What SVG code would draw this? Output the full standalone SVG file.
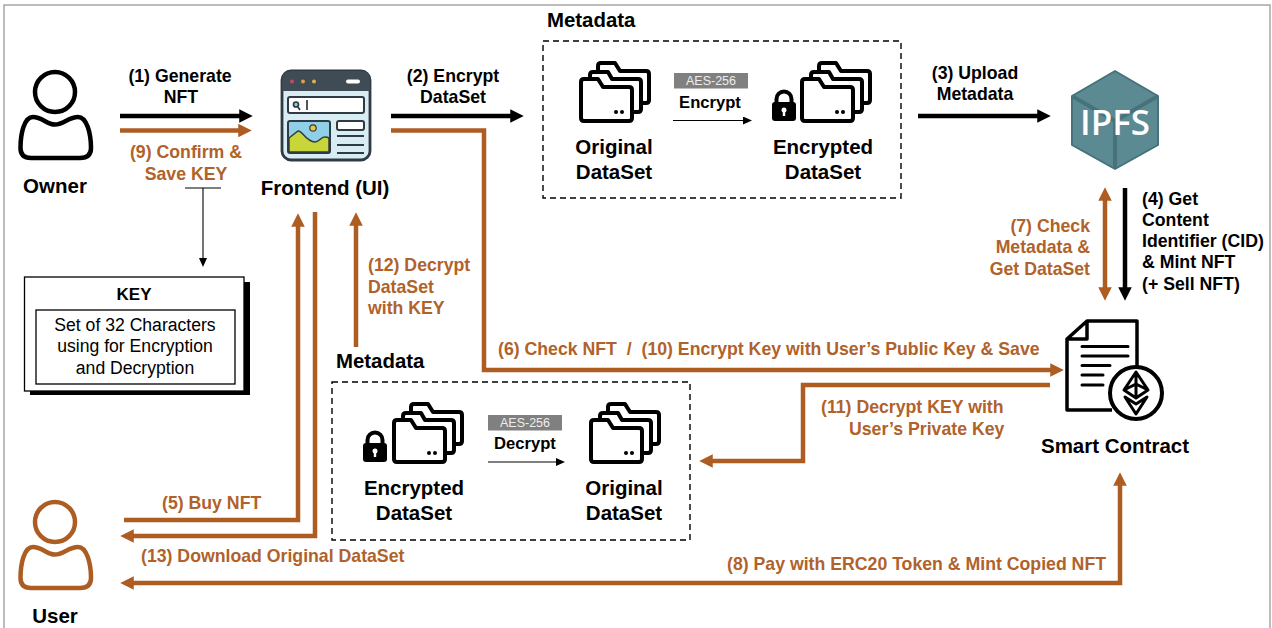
<svg xmlns="http://www.w3.org/2000/svg" width="1272" height="628" viewBox="0 0 1272 628">
<style>
text{font-family:"Liberation Sans",Arial,sans-serif;font-weight:700;fill:#000}
.t{font-size:17.7px}
.o{fill:#b0622a}
.n{font-size:20.5px;text-anchor:middle}
.m{text-anchor:middle}
.meta{font-size:20.4px}
.b{fill:none;stroke:#000;stroke-width:4.5;marker-end:url(#ab)}
.r{fill:none;stroke:#ad5c22;stroke-width:4.5;marker-end:url(#ao)}
.thin{fill:none;stroke:#000;stroke-width:1.1}
.f{fill:none;stroke:#000;stroke-width:4;stroke-linejoin:round;stroke-linecap:round}
.dash{fill:none;stroke:#000;stroke-width:1.4;stroke-dasharray:6 4}
.ln{stroke:#000;stroke-linecap:round}
.aes{fill:#808080}
.aest{font-size:12.5px;font-weight:400;fill:#eee;text-anchor:middle}
.op{font-size:16.6px;text-anchor:middle}
.kt{font-size:17.6px;font-weight:400;text-anchor:middle}
</style>
<defs>
<marker id="ab" viewBox="0 0 3 3" markerWidth="3" markerHeight="3" refX="1.5" refY="1.5" orient="auto-start-reverse"><path d="M0 0L3 1.5L0 3Z" fill="#000"/></marker>
<marker id="ao" viewBox="0 0 3 3" markerWidth="3" markerHeight="3" refX="1.5" refY="1.5" orient="auto-start-reverse"><path d="M0 0L3 1.5L0 3Z" fill="#ad5c22"/></marker>
<marker id="at" viewBox="0 0 9 8" markerWidth="9" markerHeight="8" markerUnits="userSpaceOnUse" refX="2" refY="4" orient="auto"><path d="M0 0L9 4L0 8Z" fill="#000"/></marker>
<g id="person">
<circle cx="55" cy="92" r="20" fill="none" stroke-width="4.5"/>
<path d="M55 124.500C47 124.500 42 117 33 117C24 117 20.500 134 20.500 148C20.500 155 24 158 31 158H80C87 158 91 155 91 148C91 134 87 117 78 117C69 117 63 124.500 55 124.500Z" fill="none" stroke-width="4.500"/>
</g>
<g id="folders">
<path class="f" d="M19 9V4Q19 1 22 1H36L41 9H67Q70 9 70 12V38Q70 41 67 41H62"/>
<path class="f" d="M11 16V13Q11 10 14 10H29L33 17H59Q62 17 62 20V47Q62 50 59 50H53"/>
<path class="f" d="M2 56V20Q2 17 5 17H19L24 25H50Q53 25 53 28V56Q53 59 50 59H5Q2 59 2 56Z"/>
<circle cx="37" cy="50" r="2"/><circle cx="43" cy="50" r="2"/>
</g>
<g id="lock">
<path d="M4.500 14V10A7.500 7.500 0 0 1 19.500 10V14" fill="none" stroke="#000" stroke-width="4"/>
<rect x="0" y="13" width="24" height="19" rx="3"/>
<circle cx="12" cy="21" r="2.500" fill="#fff"/><rect x="10.800" y="21" width="2.400" height="6" fill="#fff"/>
</g>
</defs>
<rect width="1272" height="628" fill="#fff"/>
<path id="frame" d="M4 628V5H1270V628" fill="none" stroke="#a6a6a6" stroke-width="1.500"/>

<g id="connectors">
<path class="b" d="M120 116H246"/>
<path class="r" d="M120 130.500H245"/>
<path class="b" d="M391 116H517"/>
<path class="r" d="M391 130.500H484V370H1057"/>
<path class="b" d="M918 116H1044"/>
<path class="r" d="M1105 194V294" marker-start="url(#ao)"/>
<path class="b" d="M1125 188V294"/>
<path class="r" d="M124 520H298V220"/>
<path class="r" d="M315 212V536H127"/>
<path class="r" d="M356 347V219"/>
<path class="r" d="M1050 385H803V461H706"/>
<path class="r" d="M127 583H1120V479" marker-start="url(#ao)"/>
<path class="thin" d="M185 188H221" stroke="#777"/>
<path class="thin" d="M203 188V260" marker-end="url(#at)"/>
<path class="thin" d="M673 120.500H745" marker-end="url(#at)"/>
<path class="thin" d="M488 462H558" marker-end="url(#at)"/>
</g>

<g id="owner">
<use href="#person" stroke="#000"/>
<text class="n" x="55" y="193">Owner</text>
</g>
<g id="user">
<use href="#person" y="430" stroke="#ad5c22"/>
<text class="n" x="55" y="623">User</text>
</g>

<g id="frontend">
<rect x="282" y="71" width="88" height="89" rx="9" fill="#d8edf3" stroke="#2f3a42" stroke-width="2.800"/>
<path d="M282 91V80Q282 71 291 71H361Q370 71 370 80V91Z" fill="#3f4c56"/>
<circle cx="292" cy="81.500" r="2" fill="#c04a6a"/><circle cx="303" cy="81.500" r="2" fill="#e0a040"/><circle cx="314" cy="81.500" r="2" fill="#e0b040"/>
<rect x="346" y="79.500" width="14" height="4" rx="2" fill="#fff"/>
<rect x="288" y="97" width="76" height="16" rx="2" fill="#fff" stroke="#2f3a42" stroke-width="2"/>
<circle cx="296" cy="104.500" r="2.500" fill="#8fd0e8" stroke="#2f3a42" stroke-width="1.700"/>
<path d="M298 107L300 110M307 100V110" stroke="#2f3a42" stroke-width="1.700"/>
<rect x="288" y="121" width="42" height="32" rx="2" fill="#8fd0e8" stroke="#2f3a42" stroke-width="2"/>
<path d="M289 138L298 131C302 130 306 142 315 142C320 142 322 134 329 138V152H289Z" fill="#c9d63a" stroke="#2f3a42" stroke-width="1.500"/>
<circle cx="313" cy="128" r="3.200" fill="#eec23e" stroke="#2f3a42" stroke-width="1.200"/>
<rect x="337" y="121" width="27" height="9" rx="2" fill="#fff" stroke="#2f3a42" stroke-width="2"/>
<path d="M337 136H364M337 145H364M337 153H364" stroke="#2f3a42" stroke-width="1.800"/>
<text class="n" x="325" y="195">Frontend (UI)</text>
</g>

<g id="key">
<rect x="30" y="282" width="220" height="113"/>
<rect x="24.500" y="277" width="219.500" height="114" fill="#fff" stroke="#000" stroke-width="1.300"/>
<rect x="36" y="310" width="199" height="74" fill="#fff" stroke="#000" stroke-width="1.300"/>
<text class="m" x="134" y="300" font-size="17">KEY</text>
<text class="kt" x="135" y="331">Set of 32 Characters</text>
<text class="kt" x="135" y="352">using for Encryption</text>
<text class="kt" x="135" y="374">and Decryption</text>
</g>

<g id="metadata-encrypt">
<text class="meta" x="547" y="27">Metadata</text>
<rect class="dash" x="543" y="41" width="358" height="157"/>
<use href="#folders" x="579" y="62"/>
<use href="#folders" x="800" y="62"/>
<use href="#lock" x="772" y="89"/>
<rect class="aes" x="674" y="73" width="74" height="15.500"/>
<text class="aest" x="711" y="85">AES-256</text>
<text class="op" x="710" y="108">Encrypt</text>
<text class="n" x="614" y="154">Original</text>
<text class="n" x="614" y="179">DataSet</text>
<text class="n" x="823" y="154">Encrypted</text>
<text class="n" x="823" y="179">DataSet</text>
</g>

<g id="metadata-decrypt">
<text class="meta" x="336" y="368">Metadata</text>
<rect class="dash" x="332" y="382" width="358" height="158"/>
<use href="#folders" x="392" y="403"/>
<use href="#folders" x="589" y="403"/>
<use href="#lock" x="363" y="430"/>
<rect class="aes" x="488" y="415" width="74" height="15.500"/>
<text class="aest" x="525" y="427">AES-256</text>
<text class="op" x="525" y="449">Decrypt</text>
<text class="n" x="414" y="495">Encrypted</text>
<text class="n" x="414" y="520">DataSet</text>
<text class="n" x="624" y="495">Original</text>
<text class="n" x="624" y="520">DataSet</text>
</g>

<g id="ipfs">
<path d="M1115 71L1158 96V145L1115 169L1072 145V96Z" fill="#5b8a92" stroke="#47727b" stroke-width="2" stroke-linejoin="round"/>
<path d="M1072 96L1115 121L1158 96M1115 121V169" fill="none" stroke="#47727b" stroke-width="4"/>
<text x="1115" y="135" text-anchor="middle" style="font-family:'Open Sans','Liberation Sans',sans-serif;font-weight:600;font-size:35px;fill:#fff">IPFS</text>
</g>

<g id="smart-contract">
<path d="M1137 367V321H1087L1067 339V410H1112M1087 321V339H1067" fill="none" stroke="#000" stroke-width="3.500" stroke-linejoin="round"/>
<path class="ln" stroke-width="3" d="M1082 346.500H1128M1082 356H1128M1082 365.500H1110M1082 375H1103M1082 385H1103"/>
<circle cx="1136" cy="393" r="26" fill="#fff" stroke="#000" stroke-width="4"/>
<path d="M1136 372L1148 390L1136 398L1124 390ZM1124 390L1136 384L1148 390M1136 372V398M1125 397L1136 404L1147 397L1136 414Z" fill="none" stroke="#000" stroke-width="3" stroke-linejoin="round"/>
<text class="n" x="1115" y="453">Smart Contract</text>
</g>

<g id="labels">
<text class="t m" x="180" y="82">(1) Generate</text>
<text class="t m" x="181" y="103">NFT</text>
<text class="t m o" x="186" y="158">(9) Confirm &amp;</text>
<text class="t m o" x="186" y="180">Save KEY</text>
<text class="t m" x="453" y="82">(2) Encrypt</text>
<text class="t m" x="453" y="103">DataSet</text>
<text class="t m" x="975" y="79">(3) Upload</text>
<text class="t m" x="975" y="100">Metadata</text>
<text class="t" x="1142" y="205">(4) Get</text>
<text class="t" x="1142" y="226">Content</text>
<text class="t" x="1142" y="247">Identifier (CID)</text>
<text class="t" x="1142" y="268">&amp; Mint NFT</text>
<text class="t" x="1142" y="290">(+ Sell NFT)</text>
<text class="t o" x="1090" y="232" text-anchor="end">(7) Check</text>
<text class="t o" x="1090" y="253" text-anchor="end">Metadata &amp;</text>
<text class="t o" x="1090" y="275" text-anchor="end">Get DataSet</text>
<text class="t o" x="368" y="271">(12) Decrypt</text>
<text class="t o" x="368" y="293">DataSet</text>
<text class="t o" x="368" y="314">with KEY</text>
<text class="t o" x="498" y="355" xml:space="preserve">(6) Check NFT  /  (10) Encrypt Key with User’s Public Key &amp; Save</text>
<text class="t o" x="821" y="413">(11) Decrypt KEY with</text>
<text class="t o" x="849" y="435">User’s Private Key</text>
<text class="t o" x="162" y="509">(5) Buy NFT</text>
<text class="t o" x="141" y="562">(13) Download Original DataSet</text>
<text class="t o" x="727" y="570">(8) Pay with ERC20 Token &amp; Mint Copied NFT</text>
</g>
</svg>
